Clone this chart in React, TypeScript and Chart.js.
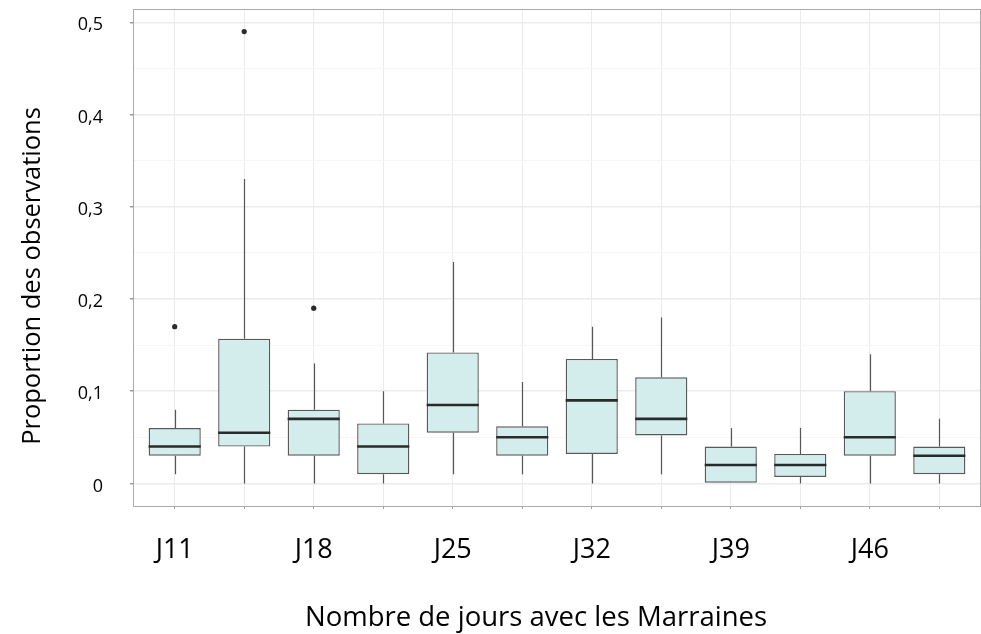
import React, { useEffect, useRef } from 'react';
import { Chart, registerables } from 'chart.js';

Chart.register(...registerables);

// ---- data ----
const tickLabels = ['J11', '', 'J18', '', 'J25', '', 'J32', '', 'J39', '', 'J46', ''];
const whiskerLow = [0.01, 0, 0, 0, 0.01, 0.01, 0, 0.01, 0, 0, 0, 0];
const q1 = [0.03, 0.04, 0.03, 0.01, 0.055, 0.03, 0.032, 0.052, 0, 0.007, 0.03, 0.01];
const median = [0.04, 0.055, 0.07, 0.04, 0.085, 0.05, 0.09, 0.07, 0.02, 0.02, 0.05, 0.03];
const q3 = [0.06, 0.157, 0.08, 0.065, 0.142, 0.062, 0.135, 0.115, 0.04, 0.032, 0.1, 0.04];
const whiskerHigh = [0.08, 0.33, 0.13, 0.1, 0.24, 0.11, 0.17, 0.18, 0.06, 0.06, 0.14, 0.07];
const outlierCategory = [1, 2, 3];
const outlierValue = [0.17, 0.49, 0.19];
const yMajorValues = [0, 0.1, 0.2, 0.3, 0.4, 0.5];
const yMajorLabels = ['0', '0,1', '0,2', '0,3', '0,4', '0,5'];
const yMinorValues = [0.05, 0.15, 0.25, 0.35, 0.45];
const xTitle = 'Nombre de jours avec les Marraines';
const yTitle = 'Proportion des observations';

const FONT = "'Open Sans', 'Noto Sans', sans-serif";

const isMinor = (v: number) => yMinorValues.some((m) => Math.abs(m - v) < 1e-6);

const boxPlugin = {
  id: 'boxParts',
  beforeDatasetsDraw(chart: any) {
    const { ctx, scales } = chart;
    const xs = scales.x;
    const ys = scales.y;
    ctx.save();
    ctx.strokeStyle = '#555555';
    ctx.lineWidth = 1.2;
    for (let i = 0; i < q1.length; i++) {
      const x = Math.round(xs.getPixelForValue(i + 1)) + 0.5;
      ctx.beginPath();
      ctx.moveTo(x, ys.getPixelForValue(whiskerLow[i]));
      ctx.lineTo(x, ys.getPixelForValue(q1[i]));
      ctx.moveTo(x, ys.getPixelForValue(q3[i]));
      ctx.lineTo(x, ys.getPixelForValue(whiskerHigh[i]));
      ctx.stroke();
    }
    ctx.restore();
  },
  afterDatasetsDraw(chart: any) {
    const { ctx, scales } = chart;
    const ys = scales.y;
    const meta = chart.getDatasetMeta(0);
    ctx.save();
    ctx.strokeStyle = '#2a2a2a';
    ctx.lineWidth = 2.6;
    for (let i = 0; i < median.length; i++) {
      const bar = meta.data[i];
      const half = bar.width / 2;
      const y = ys.getPixelForValue(median[i]);
      ctx.beginPath();
      ctx.moveTo(bar.x - half, y);
      ctx.lineTo(bar.x + half, y);
      ctx.stroke();
    }
    ctx.restore();
  },
  afterDraw(chart: any) {
    const { ctx, chartArea } = chart;
    ctx.save();
    ctx.strokeStyle = '#aaaaaa';
    ctx.lineWidth = 1;
    ctx.strokeRect(
      Math.round(chartArea.left) + 0.5,
      Math.round(chartArea.top) + 0.5,
      Math.round(chartArea.right - chartArea.left) - 1,
      Math.round(chartArea.bottom - chartArea.top)
    );
    // axis titles
    ctx.fillStyle = '#000000';
    ctx.font = `27.5px ${FONT}`;
    ctx.textAlign = 'center';
    ctx.textBaseline = 'alphabetic';
    ctx.fillText(xTitle, 536, 626);
    ctx.translate(40, 276);
    ctx.rotate(-Math.PI / 2);
    ctx.font = `25.5px ${FONT}`;
    ctx.fillText(yTitle, 0, 0);
    ctx.restore();
  },
};

export default function App() {
  const canvasRef = useRef<HTMLCanvasElement | null>(null);

  useEffect(() => {
    document.body.style.margin = '0';
    const canvas = canvasRef.current;
    if (!canvas) return;
    const chart = new Chart(canvas, {
      type: 'bar',
      data: {
        datasets: [
          {
            type: 'bar',
            label: 'box',
            data: q1.map((v, i) => ({ x: i + 1, y: [v, q3[i]] })) as any,
            backgroundColor: '#d3eded',
            borderColor: '#595959',
            borderWidth: 1.4,
            borderSkipped: false,
            barPercentage: 0.75,
            categoryPercentage: 1,
            grouped: false,
            order: 2,
          } as any,
          {
            type: 'scatter',
            label: 'outliers',
            data: outlierCategory.map((c, i) => ({ x: c, y: outlierValue[i] })),
            backgroundColor: '#2a2a2a',
            borderColor: '#2a2a2a',
            pointRadius: 2.6,
            pointHoverRadius: 2.6,
            borderWidth: 0,
            order: 1,
          } as any,
        ],
      },
      options: {
        animation: false,
        responsive: false,
        devicePixelRatio: 1,
        layout: { autoPadding: false, padding: { top: 9, left: 0, right: 0, bottom: 0 } },
        plugins: {
          legend: { display: false },
          tooltip: { enabled: false },
          title: { display: false },
        },
        scales: {
          x: {
            type: 'linear',
            min: 0.4,
            max: 12.6,
            offset: false,
            afterBuildTicks: (scale: any) => {
              scale.ticks = tickLabels.map((_, i) => ({ value: i + 1 }));
            },
            afterFit: (scale: any) => {
              scale.height = 128;
              scale.paddingLeft = 0;
              scale.paddingRight = 0;
            },
            grid: {
              offset: false,
              color: '#ebebeb',
              lineWidth: 1,
              tickLength: 3,
              tickColor: '#9a9a9a',
              drawTicks: true,
            },
            border: { display: false },
            ticks: {
              autoSkip: false,
              maxRotation: 0,
              minRotation: 0,
              padding: 25,
              color: '#000000',
              font: { family: FONT, size: 27 },
              callback: (v: any) => {
                const idx = Math.round(Number(v)) - 1;
                return tickLabels[idx] ?? '';
              },
            },
          },
          y: {
            type: 'linear',
            min: -0.0245,
            max: 0.5145,
            afterBuildTicks: (scale: any) => {
              const vals = [...yMajorValues, ...yMinorValues].sort((a, b) => a - b);
              scale.ticks = vals.map((v) => ({ value: v }));
            },
            afterFit: (scale: any) => {
              scale.width = 133;
              scale.paddingTop = 0;
              scale.paddingBottom = 0;
            },
            grid: {
              color: (c: any) => (isMinor(c.tick.value) ? '#f5f5f5' : '#ebebeb'),
              lineWidth: (c: any) => (isMinor(c.tick.value) ? 1 : 1.5),
              tickLength: 3,
              tickColor: (c: any) => (isMinor(c.tick.value) ? 'rgba(0,0,0,0)' : '#9a9a9a'),
            },
            border: { display: false },
            ticks: {
              autoSkip: false,
              padding: 27,
              labelOffset: 3,
              color: '#000000',
              font: { family: FONT, size: 18 },
              callback: (v: any) => {
                const idx = yMajorValues.findIndex((m) => Math.abs(m - Number(v)) < 1e-6);
                return idx >= 0 ? yMajorLabels[idx] : '';
              },
            },
          },
        },
      } as any,
      plugins: [boxPlugin],
    });
    return () => chart.destroy();
  }, []);

  return (
    <div style={{ width: 981, height: 634, position: 'relative' }}>
      <canvas ref={canvasRef} width={981} height={634} style={{ display: 'block' }} />
    </div>
  );
}
